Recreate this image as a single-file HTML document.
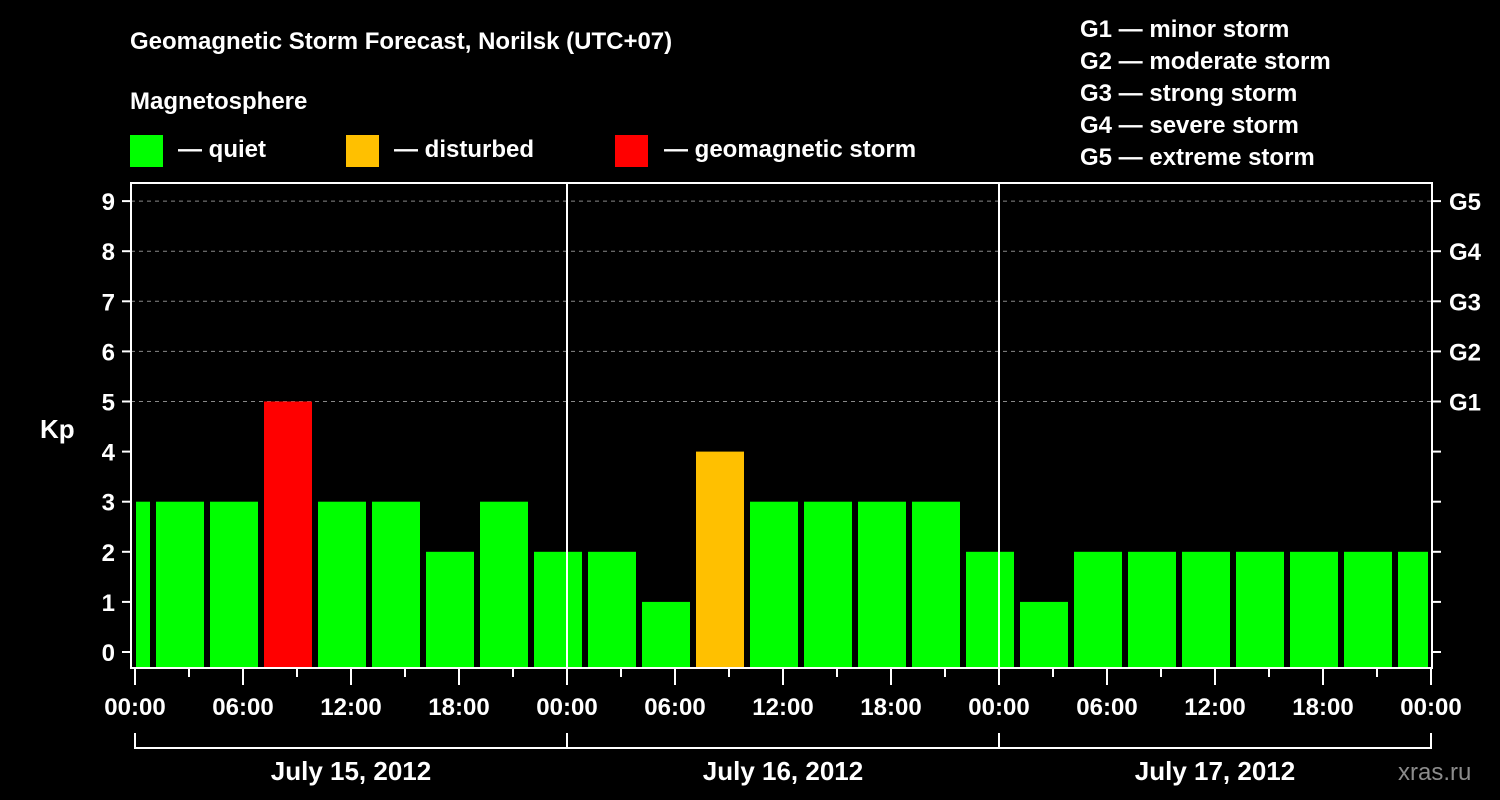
<!DOCTYPE html>
<html><head><meta charset="utf-8"><style>
body{margin:0;background:#000;width:1500px;height:800px;overflow:hidden}
svg{display:block}
text{font-family:"Liberation Sans",Arial,sans-serif;font-weight:bold;fill:#fff}
</style></head><body>
<svg id="c" width="1500" height="800">
<text x="130" y="49" font-size="24">Geomagnetic Storm Forecast, Norilsk (UTC+07)</text>
<text x="130" y="109" font-size="24">Magnetosphere</text>
<g><rect x="130" y="135" width="33" height="32" fill="#00ff00"/><text x="178" y="157" font-size="24">— quiet</text></g>
<g><rect x="346" y="135" width="33" height="32" fill="#ffc000"/><text x="394" y="157" font-size="24">— disturbed</text></g>
<g><rect x="615" y="135" width="33" height="32" fill="#ff0000"/><text x="664" y="157" font-size="24">— geomagnetic storm</text></g>
<g font-size="24">
<text x="1080" y="37">G1 — minor storm</text>
<text x="1080" y="69">G2 — moderate storm</text>
<text x="1080" y="101">G3 — strong storm</text>
<text x="1080" y="133">G4 — severe storm</text>
<text x="1080" y="165">G5 — extreme storm</text>
</g>
<text x="40" y="438" font-size="26">Kp</text>
<text x="1398" y="780" font-size="24" fill="#888" style="fill:#8c8c8c;font-weight:normal">xras.ru</text>
<g id="plot"></g>
</svg>
<script>
const kpValues=[3,3,3,5,3,3,2,3,2,2,1,4,3,3,3,3,2,1,2,2,2,2,2,2,2];
const barStartHours=[-2,1,4,7,10,13,16,19,22,25,28,31,34,37,40,43,46,49,52,55,58,61,64,67,70];
const dayLabels=["July 15, 2012","July 16, 2012","July 17, 2012"];
const timeLabels=["00:00","06:00","12:00","18:00"];
const kpTicks=[0,1,2,3,4,5,6,7,8,9];
const gLabels=["G1","G2","G3","G4","G5"];
const ns="http://www.w3.org/2000/svg",g=document.getElementById('plot');
const X0=135,PX_H=18,Y0=652,PX_K=50.1,TOP=183,BOT=668,LEFT=131,RIGHT=1432;
const x=h=>X0+h*PX_H, y=k=>Y0-k*PX_K;
function mk(t,a,p){const e=document.createElementNS(ns,t);for(const k in a)e.setAttribute(k,a[k]);(p||g).appendChild(e);return e;}
function color(k){return k>=5?'#ff0000':k>=4?'#ffc000':'#00ff00';}
// gridlines
for(let k=5;k<=9;k++){const l=mk('line',{x1:LEFT,x2:RIGHT,y1:y(k),y2:y(k),stroke:'#888','stroke-dasharray':'4,4','stroke-width':1});

}
// bars
kpValues.forEach((v,i)=>{const s=barStartHours[i];let x1=Math.max(x(s)+3,X0+1),x2=Math.min(x(s+3)-3,x(72)-3);
const r=mk('rect',{x:x1,y:y(v),width:x2-x1,height:BOT-y(v),fill:color(v)});

});
// day separators
for(let d=1;d<3;d++){const l=mk('line',{x1:x(24*d),x2:x(24*d),y1:TOP,y2:BOT,stroke:'#fff','stroke-width':2});

}
// frame
const f=mk('rect',{x:LEFT,y:TOP,width:RIGHT-LEFT,height:BOT-TOP,fill:'none',stroke:'#fff','stroke-width':2});


// y ticks
kpTicks.forEach(k=>{mk('line',{x1:122,x2:LEFT,y1:y(k),y2:y(k),stroke:'#fff','stroke-width':2});
mk('line',{x1:RIGHT,x2:1441,y1:y(k),y2:y(k),stroke:'#fff','stroke-width':2});
const t=mk('text',{x:115,y:y(k)+9,'font-size':24,'text-anchor':'end'});t.textContent=k;

});
gLabels.forEach((gl,i)=>{const t=mk('text',{x:1449,y:y(5+i)+9,'font-size':24});t.textContent=gl;

});
// x ticks
for(let h=0;h<=72;h+=3){const major=h%6===0;mk('line',{x1:x(h),x2:x(h),y1:BOT,y2:major?685:677,stroke:'#fff','stroke-width':2});
if(major){const t=mk('text',{x:x(h),y:715,'font-size':24,'text-anchor':'middle'});t.textContent=timeLabels[(h/6)%4];

}}
// day bracket
mk('line',{x1:x(0),x2:x(72),y1:748,y2:748,stroke:'#fff','stroke-width':2});
for(let d=0;d<=3;d++)mk('line',{x1:x(24*d),x2:x(24*d),y1:733,y2:749,stroke:'#fff','stroke-width':2});
dayLabels.forEach((dl,i)=>{const t=mk('text',{x:x(24*i+12),y:780,'font-size':26,'text-anchor':'middle'});t.textContent=dl;

});
</script>
</body></html>
